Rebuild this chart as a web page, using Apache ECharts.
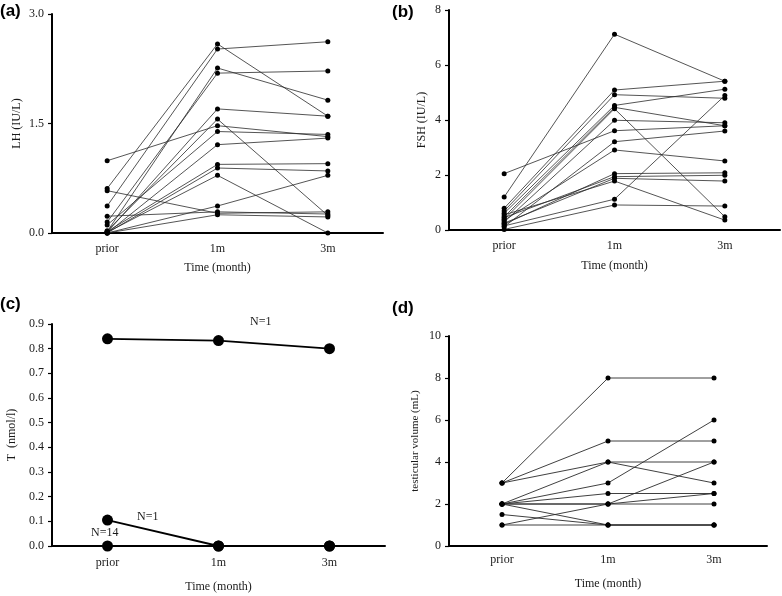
<!DOCTYPE html>
<html>
<head>
<meta charset="utf-8">
<script src="https://cdn.jsdelivr.net/npm/echarts@6/dist/echarts.min.js"></script>
<style>html,body{margin:0;padding:0;background:#fff}#c{width:782px;height:596px}</style>
</head>
<body>
<div id="c"></div>
<script>
// ---------- data ----------
const categories = ['prior', '1m', '3m'];

// (a) LH (IU/L), one entry per subject
const lhPrior = [0.61, 0.37, 0.02, 0.15, 0.01, 0.03, 0.99, 0.11, 0.00, 0.02, 0.00, 0.01, 0.00, 0.58, 0.23, 0.00];
const lh1m    = [2.59, 2.52, 2.26, 2.19, 1.70, 1.56, 1.47, 1.39, 1.21, 0.94, 0.89, 0.79, 0.37, 0.27, 0.29, 0.25];
const lh3m    = [1.60, 2.62, 1.82, 2.22, 1.60, 0.24, 1.32, 1.35, 1.30, 0.95, 0.85, 0.00, 0.79, 0.29, 0.26, 0.22];

// (b) FSH (IU/L)
const fshPrior = [1.20, 0.79, 0.69, 0.61, 0.48, 0.39, 0.29, 2.05, 0.12, 0.35, 0.21, 0.45, 0.25, 0.55, 0.15, 0.02];
const fsh1m    = [7.12, 5.09, 4.92, 4.53, 4.46, 4.41, 3.99, 3.61, 3.21, 2.91, 2.05, 1.94, 1.88, 1.78, 1.12, 0.91];
const fsh3m    = [5.41, 5.41, 4.79, 5.12, 3.79, 0.48, 3.90, 3.79, 3.60, 2.51, 2.08, 1.99, 1.78, 0.36, 4.89, 0.87];

// (c) T (nmol/l)
const tHigh = [0.84, 0.833, 0.80];   // N=1
const tLow  = [0.105, 0, 0];         // N=1
const tZero = [0, 0, 0];             // N=14

// (d) testicular volume (mL)
const volPrior = [3, 3, 3, 2, 2, 2,   2, 2, 1.5, 1, 1, 2];
const vol1m    = [8, 5, 4, 4, 3, 2.5, 2, 1, 1,   2, 1, 2];
const vol3m    = [8, 5, 4, 3, 6, 2.5, 2, 1, 1,   4, 1, 2.5];

// ---------- styles ----------
const SERIF = 'Liberation Serif';
const TXT = '#1a1a1a';

function subjectSeries(p, m1, m3, idx, sym, lw) {
  return p.map((v, i) => ({
    type: 'line', xAxisIndex: idx, yAxisIndex: idx,
    data: [v, m1[i], m3[i]],
    symbol: 'circle', symbolSize: sym, showSymbol: true,
    lineStyle: { color: '#2a2a2a', width: lw },
    itemStyle: { color: '#000' },
    silent: true, animation: false
  }));
}

function xAx(idx, gap, lm) {
  return {
    type: 'category', gridIndex: idx, data: categories, boundaryGap: true,
    name: 'Time (month)', nameLocation: 'middle', nameGap: gap,
    nameTextStyle: { fontFamily: SERIF, fontSize: 12, color: TXT },
    axisLine: { lineStyle: { color: '#000', width: 2 } },
    axisTick: { alignWithLabel: true, length: 5, lineStyle: { color: '#000', width: 1.2 } },
    axisLabel: { fontFamily: SERIF, fontSize: 12, color: TXT, margin: lm },
    splitLine: { show: false }
  };
}
function yAx(idx, name, max, interval, dec, gap, nameSize) {
  return {
    type: 'value', gridIndex: idx, min: 0, max: max, interval: interval,
    name: name, nameLocation: 'middle', nameRotate: 90, nameGap: gap,
    nameTextStyle: { fontFamily: SERIF, fontSize: nameSize || 12, color: TXT },
    axisLine: { show: true, lineStyle: { color: '#000', width: 2 } },
    axisTick: { show: true, length: 4, lineStyle: { color: '#000', width: 1.2 } },
    axisLabel: { fontFamily: SERIF, fontSize: 12, color: TXT, margin: 8,
                 formatter: v => v.toFixed(dec) },
    splitLine: { show: false }
  };
}

const panelTitle = (t, l, tp) => ({ text: t, left: l, top: tp, padding: 0,
  textStyle: { fontFamily: 'Liberation Sans', fontWeight: 'bold', fontSize: 17, color: '#000' } });

const series = []
  .concat(subjectSeries(lhPrior, lh1m, lh3m, 0, 5, 0.8))
  .concat(subjectSeries(fshPrior, fsh1m, fsh3m, 1, 5, 0.8))
  .concat([
    { type: 'line', xAxisIndex: 2, yAxisIndex: 2, data: tHigh, symbol: 'circle', symbolSize: 11,
      lineStyle: { color: '#000', width: 1.8 }, itemStyle: { color: '#000' }, animation: false },
    { type: 'line', xAxisIndex: 2, yAxisIndex: 2, data: tLow, symbol: 'circle', symbolSize: 11,
      lineStyle: { color: '#000', width: 1.8 }, itemStyle: { color: '#000' }, animation: false },
    { type: 'line', xAxisIndex: 2, yAxisIndex: 2, data: tZero, symbol: 'circle', symbolSize: 11,
      lineStyle: { color: '#000', width: 1.8 }, itemStyle: { color: '#000' }, animation: false }
  ])
  .concat(subjectSeries(volPrior, vol1m, vol3m, 3, 5, 0.9));

const opt = {
  backgroundColor: '#fff',
  animation: false,
  title: [panelTitle('(a)', 0, 3), panelTitle('(b)', 392, 4), panelTitle('(c)', 0, 296), panelTitle('(d)', 392, 300)],
  grid: [
    { left: 52,  top: 14,  width: 331, height: 219 },
    { left: 449, top: 10,  width: 331, height: 220 },
    { left: 52,  top: 324, width: 333, height: 222 },
    { left: 449, top: 336, width: 318, height: 210 }
  ],
  xAxis: [xAx(0, 29, 10), xAx(1, 30, 10), xAx(2, 35, 11), xAx(3, 32, 8)],
  yAxis: [
    yAx(0, 'LH (IU/L)', 3, 1.5, 1, 29),
    yAx(1, 'FSH (IU/L)', 8, 2, 0, 21),
    yAx(2, 'T  (nmol/l)', 0.9, 0.1, 1, 34),
    yAx(3, 'testicular volume (mL)', 10, 2, 0, 28, 11)
  ],
  graphic: [
    { type: 'text', left: 250, top: 316, style: { text: 'N=1', font: '12px "Liberation Serif"', fill: TXT } },
    { type: 'text', left: 137, top: 511, style: { text: 'N=1', font: '12px "Liberation Serif"', fill: TXT } },
    { type: 'text', left: 91,  top: 527, style: { text: 'N=14', font: '12px "Liberation Serif"', fill: TXT } }
  ],
  series: series
};

const chart = echarts.init(document.getElementById('c'), null, { renderer: 'canvas' });
chart.setOption(opt);
</script>
</body>
</html>
